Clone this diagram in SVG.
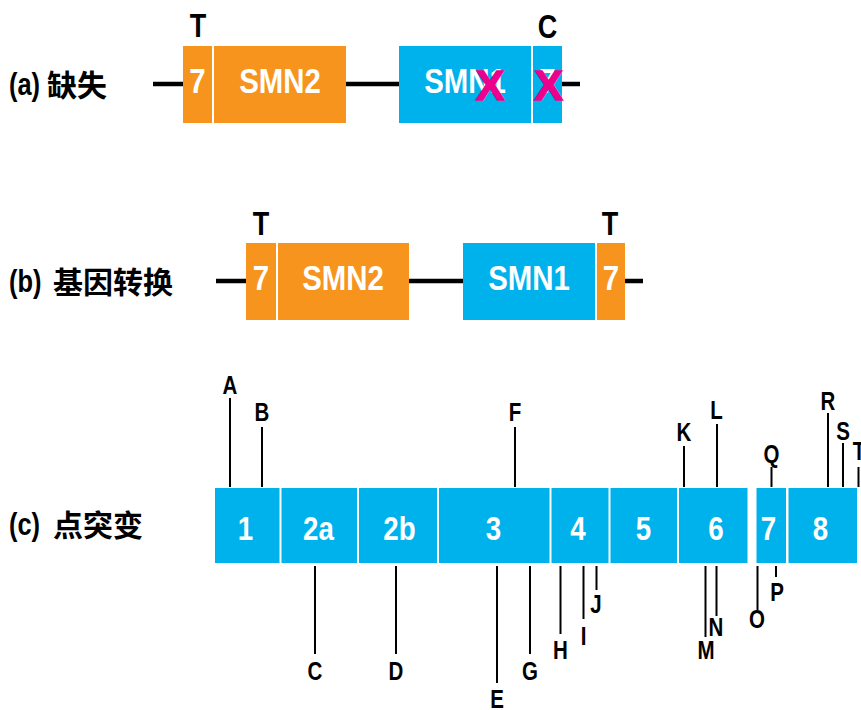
<svg xmlns="http://www.w3.org/2000/svg" width="861" height="710" viewBox="0 0 861 710">
  <style>
    .bg { fill: #ffffff; }
    .orange { fill: #F7941D; }
    .blue { fill: #00B2EC; }
    .sep { stroke: #ffffff; stroke-width: 2; }
    .intron { stroke: #000000; stroke-width: 4.5; fill: none; }
    .tick { stroke: #000000; stroke-width: 2; fill: none; }
    /* condensed bold sans: Liberation Sans squeezed horizontally via transform */
    .lat { font-family: "Liberation Sans", Arial, sans-serif; font-weight: bold; }
    .inbox { fill: #ffffff; font-size: 35px; text-anchor: middle; }
    .exnum { fill: #ffffff; font-size: 33px; text-anchor: middle; }
    .nt { fill: #000000; font-size: 33px; text-anchor: middle; }
    .mut { fill: #000000; font-size: 25px; text-anchor: middle; }
    .sec { fill: #000000; font-size: 31px; }
    .cjk { font-family: "Noto Sans CJK SC", "Noto Sans CJK TC", sans-serif; font-weight: bold; font-size: 30px; fill: #000000; }
    .cross { fill: #EC008C; stroke: #EC008C; stroke-width: 1.4; font-family: "Liberation Sans", sans-serif; font-weight: bold; font-size: 43px; text-anchor: middle; }
  </style>

  <rect class="bg" x="0" y="0" width="861" height="710"/>

  <!-- section titles -->
  <g id="title-a">
    <text class="lat sec" transform="translate(9 95) scale(0.82 1)">(a)</text>
    <text class="cjk" x="47" y="96">缺失</text>
  </g>
  <g id="title-b">
    <text class="lat sec" transform="translate(9 292) scale(0.82 1)">(b)</text>
    <text class="cjk" x="53" y="293">基因转换</text>
  </g>
  <g id="title-c">
    <text class="lat sec" transform="translate(9 535) scale(0.82 1)">(c)</text>
    <text class="cjk" x="53" y="536">点突变</text>
  </g>

  <!-- connectors: intron lines and mutation ticks -->
  <g id="connectors">
    <line class="intron" x1="153" y1="84" x2="183" y2="84"/>
    <line class="intron" x1="346" y1="84" x2="399" y2="84"/>
    <line class="intron" x1="562" y1="84" x2="580" y2="84"/>
    <line class="intron" x1="216" y1="281" x2="246" y2="281"/>
    <line class="intron" x1="409" y1="281" x2="463" y2="281"/>
    <line class="intron" x1="625" y1="281" x2="643" y2="281"/>

    <!-- ticks above the exons -->
    <line class="tick" x1="230" y1="398" x2="230" y2="487"/>
    <line class="tick" x1="262" y1="427" x2="262" y2="487"/>
    <line class="tick" x1="515" y1="427" x2="515" y2="487"/>
    <line class="tick" x1="684" y1="446" x2="684" y2="487"/>
    <line class="tick" x1="717" y1="424" x2="717" y2="487"/>
    <line class="tick" x1="771.5" y1="467" x2="771.5" y2="487"/>
    <line class="tick" x1="828" y1="413" x2="828" y2="487"/>
    <line class="tick" x1="843" y1="443" x2="843" y2="487"/>
    <line class="tick" x1="858.5" y1="467" x2="858.5" y2="487"/>

    <!-- ticks below the exons -->
    <line class="tick" x1="315" y1="566" x2="315" y2="654"/>
    <line class="tick" x1="396" y1="566" x2="396" y2="654"/>
    <line class="tick" x1="497" y1="566" x2="497" y2="683"/>
    <line class="tick" x1="530" y1="566" x2="530" y2="654"/>
    <line class="tick" x1="560.5" y1="566" x2="560.5" y2="634"/>
    <line class="tick" x1="583.5" y1="566" x2="583.5" y2="619"/>
    <line class="tick" x1="596.5" y1="566" x2="596.5" y2="590"/>
    <line class="tick" x1="705.5" y1="566" x2="705.5" y2="637"/>
    <line class="tick" x1="716.5" y1="566" x2="716.5" y2="616"/>
    <line class="tick" x1="757.5" y1="566" x2="757.5" y2="610"/>
    <line class="tick" x1="776" y1="566" x2="776" y2="577"/>
  </g>

  <!-- (a) deletion -->
  <g id="a-smn2">
    <rect class="orange" x="183" y="46" width="163" height="77"/>
    <line class="sep" x1="213" y1="46" x2="213" y2="123"/>
    <text class="lat inbox" transform="translate(197.5 93) scale(0.84 1)">7</text>
    <text class="lat inbox" transform="translate(280 93) scale(0.84 1)">SMN2</text>
  </g>
  <g id="a-smn1">
    <rect class="blue" x="399" y="46" width="163" height="77"/>
    <line class="sep" x1="532" y1="46" x2="532" y2="123"/>
    <text class="lat inbox" transform="translate(465 93) scale(0.84 1)">SMN1</text>
    <text class="lat inbox" transform="translate(547.5 93) scale(0.84 1)">7</text>
    <text class="cross" x="490" y="100">X</text>
    <text class="cross" x="548.5" y="100">X</text>
  </g>
  <g id="a-labels">
    <text class="lat nt" transform="translate(198 37) scale(0.82 1)">T</text>
    <text class="lat nt" transform="translate(547.5 38) scale(0.82 1)">C</text>
  </g>

  <!-- (b) gene conversion -->
  <g id="b-smn2">
    <rect class="orange" x="246" y="243" width="163" height="77"/>
    <line class="sep" x1="277" y1="243" x2="277" y2="320"/>
    <text class="lat inbox" transform="translate(261 290) scale(0.84 1)">7</text>
    <text class="lat inbox" transform="translate(343 290) scale(0.84 1)">SMN2</text>
  </g>
  <g id="b-smn1">
    <rect class="blue" x="463" y="243" width="162" height="77"/>
    <rect class="orange" x="597" y="243" width="28" height="77"/>
    <line class="sep" x1="596" y1="243" x2="596" y2="320"/>
    <text class="lat inbox" transform="translate(529 290) scale(0.84 1)">SMN1</text>
    <text class="lat inbox" transform="translate(611 290) scale(0.84 1)">7</text>
  </g>
  <g id="b-labels">
    <text class="lat nt" transform="translate(261 235) scale(0.82 1)">T</text>
    <text class="lat nt" transform="translate(610 235) scale(0.82 1)">T</text>
  </g>

  <!-- (c) exons -->
  <g id="exon-1"><rect class="blue" x="215" y="488" width="64.5" height="75"/><text class="lat exnum" transform="translate(245.5 540) scale(0.84 1)">1</text></g>
  <g id="exon-2a"><rect class="blue" x="281.5" y="488" width="75.5" height="75"/><text class="lat exnum" transform="translate(318.5 540) scale(0.84 1)">2a</text></g>
  <g id="exon-2b"><rect class="blue" x="359" y="488" width="78" height="75"/><text class="lat exnum" transform="translate(399.5 540) scale(0.84 1)">2b</text></g>
  <g id="exon-3"><rect class="blue" x="439" y="488" width="110.5" height="75"/><text class="lat exnum" transform="translate(493.5 540) scale(0.84 1)">3</text></g>
  <g id="exon-4"><rect class="blue" x="551.5" y="488" width="57" height="75"/><text class="lat exnum" transform="translate(578 540) scale(0.84 1)">4</text></g>
  <g id="exon-5"><rect class="blue" x="610.5" y="488" width="66.5" height="75"/><text class="lat exnum" transform="translate(643.5 540) scale(0.84 1)">5</text></g>
  <g id="exon-6"><rect class="blue" x="679" y="488" width="68.5" height="75"/><text class="lat exnum" transform="translate(716 540) scale(0.84 1)">6</text></g>
  <g id="exon-7"><rect class="blue" x="756.5" y="488" width="29.5" height="75"/><text class="lat exnum" transform="translate(768.5 540) scale(0.84 1)">7</text></g>
  <g id="exon-8"><rect class="blue" x="788.5" y="488" width="68.5" height="75"/><text class="lat exnum" transform="translate(820.5 540) scale(0.84 1)">8</text></g>

  <!-- (c) mutation labels -->
  <g id="mutation-labels">
    <text class="lat mut" transform="translate(230 394) scale(0.82 1)">A</text>
    <text class="lat mut" transform="translate(262 421) scale(0.82 1)">B</text>
    <text class="lat mut" transform="translate(315 680) scale(0.82 1)">C</text>
    <text class="lat mut" transform="translate(396 680) scale(0.82 1)">D</text>
    <text class="lat mut" transform="translate(497 708) scale(0.82 1)">E</text>
    <text class="lat mut" transform="translate(515 421) scale(0.82 1)">F</text>
    <text class="lat mut" transform="translate(530 680) scale(0.82 1)">G</text>
    <text class="lat mut" transform="translate(560.5 659) scale(0.82 1)">H</text>
    <text class="lat mut" transform="translate(583.5 645) scale(0.82 1)">I</text>
    <text class="lat mut" transform="translate(596 613) scale(0.82 1)">J</text>
    <text class="lat mut" transform="translate(684 441) scale(0.82 1)">K</text>
    <text class="lat mut" transform="translate(716.5 419) scale(0.82 1)">L</text>
    <text class="lat mut" transform="translate(706 659) scale(0.82 1)">M</text>
    <text class="lat mut" transform="translate(716 636) scale(0.82 1)">N</text>
    <text class="lat mut" transform="translate(757 628) scale(0.82 1)">O</text>
    <text class="lat mut" transform="translate(777 601) scale(0.82 1)">P</text>
    <text class="lat mut" transform="translate(771.5 463) scale(0.82 1)">Q</text>
    <text class="lat mut" transform="translate(828 410) scale(0.82 1)">R</text>
    <text class="lat mut" transform="translate(843 440) scale(0.82 1)">S</text>
    <text class="lat mut" transform="translate(859 460) scale(0.82 1)">T</text>
  </g>
</svg>
